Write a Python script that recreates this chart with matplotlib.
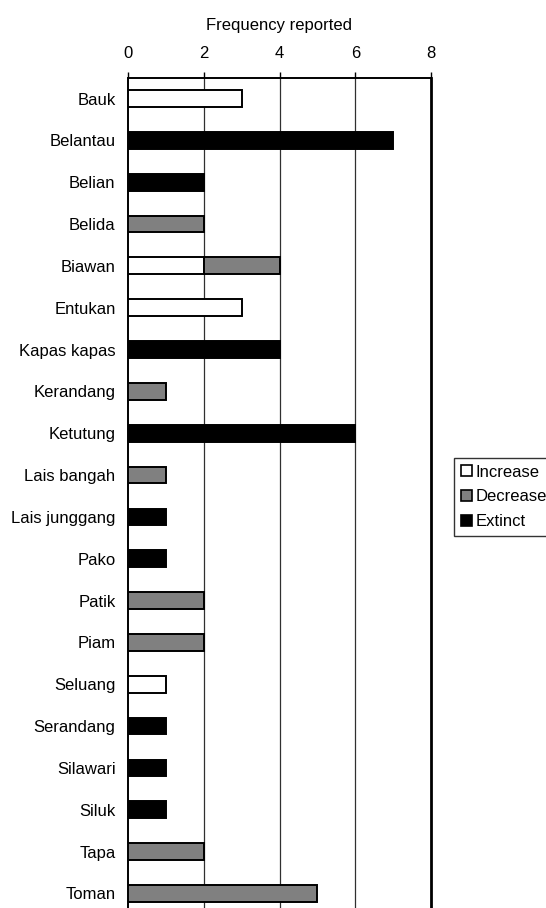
import matplotlib
matplotlib.use("Agg")
import matplotlib.pyplot as plt
from matplotlib.patches import Patch
import numpy as np

plt.rcParams['font.family'] = ['Liberation Sans', 'DejaVu Sans']

species = ["Bauk", "Belantau", "Belian", "Belida", "Biawan", "Entukan",
           "Kapas kapas", "Kerandang", "Ketutung", "Lais bangah",
           "Lais junggang", "Pako", "Patik", "Piam", "Seluang",
           "Serandang", "Silawari", "Siluk", "Tapa", "Toman"]
increase = [3, 0, 0, 0, 2, 3, 0, 0, 0, 0, 0, 0, 0, 0, 1, 0, 0, 0, 0, 0]
decrease = [0, 0, 0, 2, 2, 0, 0, 1, 0, 1, 0, 0, 2, 2, 0, 0, 0, 0, 2, 5]
extinct = [0, 7, 2, 0, 0, 0, 4, 0, 6, 0, 1, 1, 0, 0, 0, 1, 1, 1, 0, 0]
series_names = ["Increase", "Decrease", "Extinct"]
series_colors = ["#ffffff", "#808080", "#000000"]
x_ticks = [0, 2, 4, 6, 8]

W, H = 546, 908
fig = plt.figure(figsize=(W / 100, H / 100), dpi=100)
ax = fig.add_axes([128 / W, 0, (431 - 128) / W, 1 - 78 / H])

y = np.arange(len(species))
left = np.zeros(len(species))
for vals, name, col in zip([increase, decrease, extinct], series_names, series_colors):
    vals = np.array(vals, dtype=float)
    mask = vals > 0
    ax.barh(y[mask], vals[mask], left=left[mask], height=0.4, color=col,
            edgecolor="black", linewidth=1.4, zorder=3)
    left += vals

ax.set_xlim(0, 8)
ax.set_ylim(19.347, -0.49)
ax.set_yticks(y)
ax.set_yticklabels(species, fontsize=12)
ax.tick_params(axis="y", length=0, pad=9)
ax.xaxis.tick_top()
ax.xaxis.set_label_position("top")
ax.set_xticks(x_ticks)
ax.set_xticklabels([str(t) for t in x_ticks], fontsize=12)
ax.tick_params(axis="x", direction="out", length=4.5, width=1, pad=7.5)
ax.set_xlabel("Frequency reported", fontsize=12, labelpad=12)

for gx in x_ticks[1:-1]:
    ax.axvline(gx, color="#303030", linewidth=0.9, zorder=1)

ax.spines["bottom"].set_visible(False)
ax.spines["top"].set_linewidth(1.4)
ax.spines["left"].set_linewidth(1.4)
ax.spines["right"].set_linewidth(2.0)

handles = [Patch(facecolor=c, edgecolor="black", linewidth=1.2, label=n)
           for n, c in zip(series_names, series_colors)]
leg = fig.legend(handles=handles, loc="upper left",
                 bbox_to_anchor=(454 / W, 1 - 458 / H), fontsize=12,
                 frameon=True, fancybox=False, handlelength=0.66,
                 handleheight=0.66, handletextpad=0.25, labelspacing=0.58,
                 borderpad=0.4, borderaxespad=0)
leg.get_frame().set_edgecolor("black")
leg.get_frame().set_linewidth(1.0)

fig.savefig("out.png", dpi=100)
